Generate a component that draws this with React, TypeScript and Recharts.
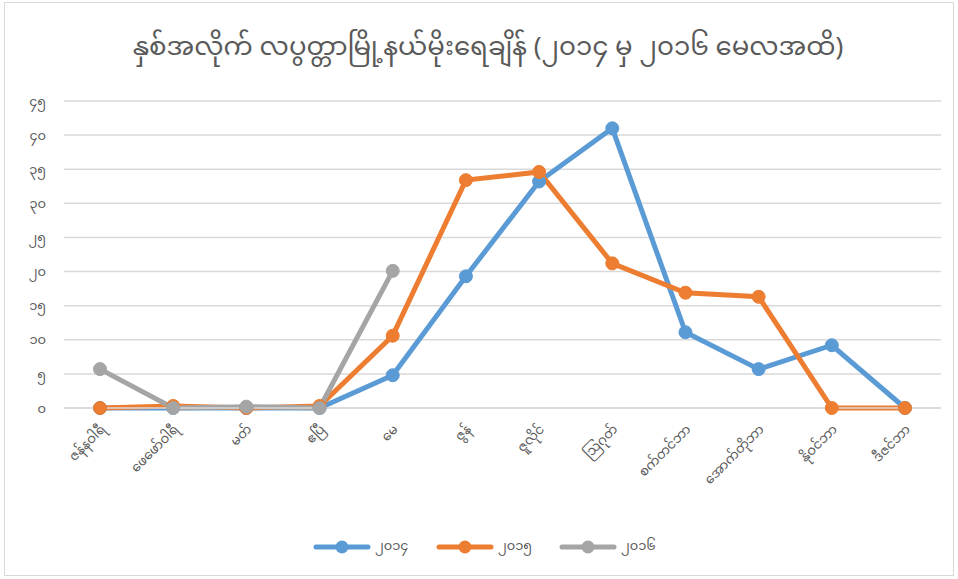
import { CartesianGrid, Legend, Line, LineChart, XAxis, YAxis } from "recharts";

const months = [
  "ဇန်နဝါရီ",
  "ဖေဖော်ဝါရီ",
  "မတ်",
  "ဧပြီ",
  "မေ",
  "ဇွန်",
  "ဇူလိုင်",
  "ဩဂုတ်",
  "စက်တင်ဘာ",
  "အောက်တိုဘာ",
  "နိုဝင်ဘာ",
  "ဒီဇင်ဘာ",
];

const rain2014 = [0, 0, 0, 0, 4.8, 19.3, 33.2, 41, 11.1, 5.7, 9.2, 0];
const rain2015 = [0, 0.3, 0, 0.3, 10.6, 33.4, 34.6, 21.2, 16.9, 16.3, 0, 0];
const rain2016 = [5.7, 0, 0.2, 0, 20.1, null, null, null, null, null, null, null];

const seriesNames = ["၂၀၁၄", "၂၀၁၅", "၂၀၁၆"];
const seriesColors = ["#5B9BD5", "#ED7D31", "#A5A5A5"];

const yTicks = [0, 5, 10, 15, 20, 25, 30, 35, 40, 45];
const yTickLabels = ["၀", "၅", "၁၀", "၁၅", "၂၀", "၂၅", "၃၀", "၃၅", "၄၀", "၄၅"];

const title = "နှစ်အလိုက် လပွတ္တာမြို့နယ်မိုးရေချိန် (၂၀၁၄ မှ ၂၀၁၆ မေလအထိ)";

const data = months.map((m, i) => ({
  month: m,
  y2014: rain2014[i],
  y2015: rain2015[i],
  y2016: rain2016[i],
}));

const FONT = "'Noto Sans Myanmar', 'Padauk', 'Myanmar Text', 'Noto Sans', sans-serif";

const MonthTick = (props: any) => {
  const { x, y, payload } = props;
  return (
    <text
      x={x + 6}
      y={y + 14}
      textAnchor="end"
      fill="#595959"
      fontSize={13}
      fontFamily={FONT}
      transform={`rotate(-45, ${x + 6}, ${y + 14})`}
    >
      {payload.value}
    </text>
  );
};

const LegendContent = () => (
  <div style={{ display: "flex", justifyContent: "center", paddingTop: 15, paddingLeft: 54, fontFamily: FONT }}>
    {seriesNames.map((name, i) => (
      <div key={name} style={{ display: "flex", alignItems: "center", width: 123 }}>
        <svg width={58} height={14}>
          <line x1={3} y1={7} x2={55} y2={7} stroke={seriesColors[i]} strokeWidth={5} strokeLinecap="round" />
          <circle cx={29} cy={7} r={6.5} fill={seriesColors[i]} />
        </svg>
        <span style={{ color: "#595959", fontSize: 13, marginLeft: 4 }}>{name}</span>
      </div>
    ))}
  </div>
);

export default function App() {
  return (
    <div
      style={{
        position: "absolute",
        left: 0,
        top: 0,
        width: 958,
        height: 579,
        background: "#fff",
      }}
    >
      <div
        style={{
          position: "absolute",
          left: 4,
          top: 2,
          width: 948,
          height: 572,
          border: "1px solid #D9D9D9",
        }}
      />
      <div
        style={{
          position: "absolute",
          top: 21,
          left: 18,
          width: 940,
          textAlign: "center",
          fontSize: 26,
          color: "#595959",
          fontFamily: FONT,
        }}
      >
        {title}
      </div>
      <LineChart
        width={958}
        height={579}
        data={data}
        margin={{ top: 101, right: 17, left: 0, bottom: 0 }}
      >
        <CartesianGrid vertical={false} stroke="#D9D9D9" strokeWidth={1.5} />
        <XAxis
          dataKey="month"
          interval={0}
          tick={<MonthTick />}
          tickLine={false}
          axisLine={{ stroke: "#D9D9D9", strokeWidth: 1.5 }}
          padding={{ left: 36, right: 36 }}
          height={110}
        />
        <YAxis
          domain={[0, 45]}
          ticks={yTicks}
          tickFormatter={(v: number) => yTickLabels[yTicks.indexOf(v)]}
          tick={{ fill: "#595959", fontSize: 13, fontFamily: FONT }}
          tickLine={false}
          axisLine={false}
          tickMargin={12}
          width={64}
        />
        <Legend verticalAlign="bottom" height={61} content={<LegendContent />} />
        <Line
          dataKey="y2014"
          name={seriesNames[0]}
          stroke={seriesColors[0]}
          strokeWidth={5}
          dot={{ r: 6.5, fill: seriesColors[0], stroke: seriesColors[0], strokeWidth: 1 }}
          isAnimationActive={false}
        />
        <Line
          dataKey="y2015"
          name={seriesNames[1]}
          stroke={seriesColors[1]}
          strokeWidth={5}
          dot={{ r: 6.5, fill: seriesColors[1], stroke: seriesColors[1], strokeWidth: 1 }}
          isAnimationActive={false}
        />
        <Line
          dataKey="y2016"
          name={seriesNames[2]}
          stroke={seriesColors[2]}
          strokeWidth={5}
          dot={{ r: 6.5, fill: seriesColors[2], stroke: seriesColors[2], strokeWidth: 1 }}
          isAnimationActive={false}
        />
      </LineChart>
    </div>
  );
}
